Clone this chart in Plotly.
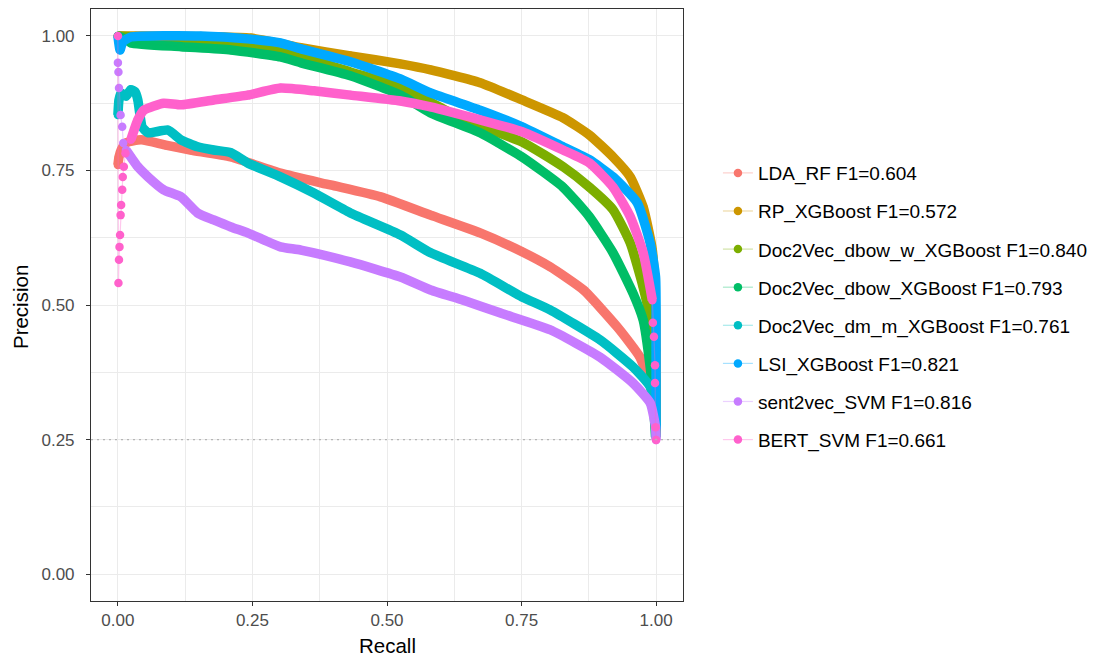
import plotly.graph_objects as go

# ---- precision / recall curves ----
# LDA_RF
lda_recall = [0.0, 0.002, 0.006, 0.015, 0.043, 0.089, 0.135, 0.210, 0.302, 0.395, 0.488,
              0.581, 0.673, 0.751, 0.803, 0.865, 0.928, 0.970, 0.989, 0.999, 1.0]
lda_precision = [0.760, 0.775, 0.788, 0.801, 0.807, 0.797, 0.788, 0.775, 0.745, 0.723, 0.701,
                 0.667, 0.634, 0.599, 0.571, 0.528, 0.459, 0.403, 0.351, 0.286, 0.255]

# RP_XGBoost
rp_recall = [0.0, 0.033, 0.247, 0.340, 0.432, 0.525, 0.581, 0.673, 0.751, 0.827, 0.876,
             0.920, 0.952, 0.976, 0.993, 0.999, 1.0, 1.0]
rp_precision = [1.0, 1.0, 0.996, 0.978, 0.963, 0.948, 0.937, 0.913, 0.881, 0.848, 0.816,
                0.775, 0.738, 0.682, 0.602, 0.491, 0.361, 0.255]

# Doc2Vec_dbow_w_XGBoost
dbow_w_recall = [0.0, 0.061, 0.154, 0.247, 0.340, 0.432, 0.525, 0.581, 0.642, 0.751, 0.827,
                 0.876, 0.920, 0.952, 0.976, 0.993, 0.999, 1.0]
dbow_w_precision = [1.0, 0.996, 0.989, 0.980, 0.961, 0.933, 0.905, 0.877, 0.844, 0.803, 0.757,
                    0.719, 0.677, 0.615, 0.533, 0.454, 0.361, 0.258]

# Doc2Vec_dbow_XGBoost
dbow_recall = [0.0, 0.015, 0.024, 0.117, 0.210, 0.302, 0.340, 0.432, 0.525, 0.581, 0.673,
               0.751, 0.827, 0.876, 0.920, 0.957, 0.976, 0.989, 0.994, 0.999]
dbow_precision = [1.0, 0.993, 0.987, 0.980, 0.974, 0.961, 0.950, 0.926, 0.890, 0.857, 0.820,
                  0.775, 0.719, 0.664, 0.597, 0.522, 0.472, 0.385, 0.333, 0.255]

# Doc2Vec_dm_m_XGBoost
dm_recall = [0.0, 0.002, 0.006, 0.015, 0.024, 0.032, 0.037, 0.041, 0.045, 0.056, 0.093,
             0.117, 0.148, 0.178, 0.210, 0.241, 0.302, 0.364, 0.432, 0.525, 0.581, 0.673,
             0.751, 0.803, 0.896, 0.957, 0.989, 0.999, 1.0]
dm_precision = [0.853, 0.881, 0.894, 0.888, 0.900, 0.896, 0.881, 0.853, 0.831, 0.820, 0.825,
                0.807, 0.794, 0.788, 0.783, 0.764, 0.738, 0.708, 0.671, 0.630, 0.597, 0.559,
                0.515, 0.491, 0.435, 0.385, 0.348, 0.286, 0.255]

# LSI_XGBoost
lsi_recall = [0.0, 0.004, 0.009, 0.024, 0.154, 0.247, 0.302, 0.340, 0.432, 0.525, 0.581,
              0.673, 0.751, 0.827, 0.876, 0.920, 0.965, 0.989, 0.999, 1.0, 1.0]
lsi_precision = [1.0, 0.974, 0.989, 0.998, 1.0, 0.994, 0.987, 0.976, 0.952, 0.920, 0.894,
                 0.862, 0.831, 0.794, 0.770, 0.738, 0.690, 0.615, 0.552, 0.416, 0.270]

# sent2vec_SVM: scattered first thresholds, then the main curve
s2v_head_recall = [0.0, 0.001, 0.002, 0.005, 0.008, 0.010]
s2v_head_precision = [0.950, 0.933, 0.903, 0.853, 0.831, 0.801]
s2v_recall = [0.015, 0.024, 0.037, 0.056, 0.085, 0.117, 0.148, 0.178, 0.210, 0.241, 0.271,
              0.302, 0.340, 0.432, 0.525, 0.581, 0.642, 0.711, 0.803, 0.896, 0.957, 0.989,
              0.999, 1.0]
s2v_precision = [0.788, 0.775, 0.757, 0.738, 0.714, 0.701, 0.671, 0.658, 0.645, 0.634, 0.621,
                 0.608, 0.602, 0.580, 0.552, 0.528, 0.509, 0.485, 0.454, 0.403, 0.355, 0.318,
                 0.273, 0.249]

# BERT_SVM: scattered first thresholds, main curve, scattered last thresholds
bert_head_recall = [0.0, 0.001, 0.002, 0.003, 0.004, 0.005, 0.006, 0.008, 0.009, 0.011, 0.014]
bert_head_precision = [1.0, 0.541, 0.584, 0.608, 0.630, 0.667, 0.686, 0.714, 0.738, 0.757, 0.782]
bert_recall = [0.024, 0.037, 0.048, 0.085, 0.117, 0.178, 0.241, 0.302, 0.364, 0.432, 0.525,
               0.581, 0.673, 0.751, 0.827, 0.876, 0.920, 0.952, 0.976, 0.993]
bert_precision = [0.807, 0.844, 0.862, 0.875, 0.872, 0.881, 0.890, 0.903, 0.898, 0.890, 0.879,
                  0.868, 0.844, 0.822, 0.788, 0.764, 0.719, 0.664, 0.597, 0.509]
bert_tail_recall = [0.994, 0.996, 0.998, 0.998, 0.999, 1.0]
bert_tail_precision = [0.467, 0.441, 0.388, 0.355, 0.273, 0.249]

labels = ["LDA_RF F1=0.604", "RP_XGBoost F1=0.572", "Doc2Vec_dbow_w_XGBoost F1=0.840",
          "Doc2Vec_dbow_XGBoost F1=0.793", "Doc2Vec_dm_m_XGBoost F1=0.761",
          "LSI_XGBoost F1=0.821", "sent2vec_SVM F1=0.816", "BERT_SVM F1=0.661"]
colors = ["#F8766D", "#CD9600", "#7CAE00", "#00BE67", "#00BFC4", "#00A9FF", "#C77CFF", "#FF61CC"]

baseline = 0.25

# (head, body, tail) pieces for every model
curves = [
    (([], []), (lda_recall, lda_precision), ([], [])),
    (([], []), (rp_recall, rp_precision), ([], [])),
    (([], []), (dbow_w_recall, dbow_w_precision), ([], [])),
    (([], []), (dbow_recall, dbow_precision), ([], [])),
    (([], []), (dm_recall, dm_precision), ([], [])),
    (([], []), (lsi_recall, lsi_precision), ([], [])),
    ((s2v_head_recall, s2v_head_precision), (s2v_recall, s2v_precision), ([], [])),
    ((bert_head_recall, bert_head_precision), (bert_recall, bert_precision),
     (bert_tail_recall, bert_tail_precision)),
]


def rgba(hex_color, alpha):
    h = hex_color.lstrip("#")
    r, g, b = int(h[0:2], 16), int(h[2:4], 16), int(h[4:6], 16)
    return f"rgba({r},{g},{b},{alpha})"


FONT = "Liberation Sans, Arial, Helvetica, sans-serif"

fig = go.Figure()
for label, color, (head, body, tail) in zip(labels, colors, curves):
    all_r = list(head[0]) + list(body[0]) + list(tail[0])
    all_p = list(head[1]) + list(body[1]) + list(tail[1])
    # dense part of the curve: a thick band of overlapping points
    fig.add_trace(go.Scatter(
        x=body[0], y=body[1], mode="lines",
        line=dict(color=color, width=9.5, shape="spline", smoothing=0.5),
        legendgroup=label, showlegend=False, hoverinfo="skip",
    ))
    # every threshold point with its faint connecting line
    fig.add_trace(go.Scatter(
        x=all_r, y=all_p, mode="lines+markers", name=label,
        line=dict(color=rgba(color, 0.35), width=1.2),
        marker=dict(color=color, size=8.5),
        legendgroup=label,
    ))

axis_common = dict(
    range=[-0.05, 1.05], tick0=0, dtick=0.25, tickformat=".2f",
    showgrid=True, gridcolor="#EBEBEB", gridwidth=1.4,
    minor=dict(dtick=0.125, tick0=0, showgrid=True, gridcolor="#EBEBEB", gridwidth=0.8),
    zeroline=False, showline=True, mirror=True, linecolor="#333333", linewidth=1.1,
    ticks="outside", ticklen=4, tickwidth=1.1, tickcolor="#333333",
    tickfont=dict(family=FONT, size=17, color="#4D4D4D"),
)

fig.update_layout(
    width=1103, height=658, autosize=False,
    margin=dict(l=91, r=420, t=9, b=57),
    paper_bgcolor="white", plot_bgcolor="white",
    font=dict(family=FONT),
    xaxis=dict(**axis_common),
    yaxis=dict(**axis_common, ticklabelstandoff=8),
    shapes=[dict(type="line", xref="paper", x0=0, x1=1, yref="y", y0=baseline, y1=baseline,
                 line=dict(color="#B5B5B5", width=1.3, dash="2px,4px"), layer="above")],
    legend=dict(x=1.059, xanchor="left", y=0.755, yanchor="top",
                traceorder="grouped", tracegroupgap=10.4,
                font=dict(family=FONT, size=19, color="black"),
                bgcolor="rgba(0,0,0,0)"),
    annotations=[
        dict(text="Recall", xref="paper", yref="paper", x=0.5, y=-0.0760,
             xanchor="center", yanchor="middle", showarrow=False,
             font=dict(family=FONT, size=20.5, color="black")),
        dict(text="Precision", xref="paper", yref="paper", x=-0.1199, y=0.4966,
             xanchor="center", yanchor="middle", textangle=-90, showarrow=False,
             font=dict(family=FONT, size=20.5, color="black")),
    ],
    showlegend=True,
)

fig.write_html("out.html")
